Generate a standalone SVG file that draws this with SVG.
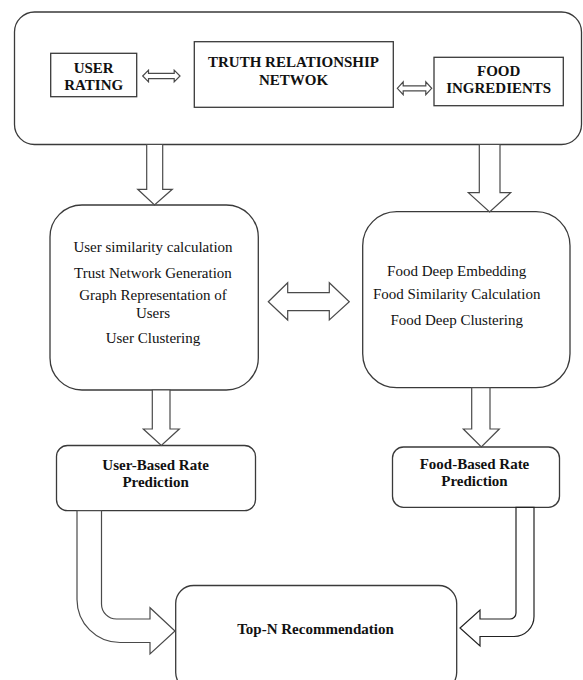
<svg xmlns="http://www.w3.org/2000/svg" width="583" height="680" viewBox="0 0 583 680">
<style>
.box{fill:#fff;stroke:#3a3a3a;stroke-width:1.3}
.arr{fill:#fff;stroke:#4a4a4a;stroke-width:1.2;stroke-linejoin:miter}
.b{font-family:"Liberation Serif","Times New Roman",serif;font-weight:bold;font-size:15px;fill:#111;text-anchor:middle}
.r{font-family:"Liberation Serif","Times New Roman",serif;font-size:15px;fill:#111;text-anchor:middle}
</style>
<rect width="583" height="680" fill="#fff"/>
<g id="top-container">
<rect class="box" x="14.5" y="12" width="567" height="132.5" rx="20"/>
</g>
<g id="user-rating">
<rect class="box" x="50.7" y="53.3" width="86" height="43.4"/>
<text class="b" x="93.7" y="72.7">USER</text>
<text class="b" x="93.7" y="90">RATING</text>
</g>
<g id="truth-network">
<rect class="box" x="194.3" y="41.7" width="199" height="65.6"/>
<text class="b" x="293.5" y="66.7">TRUTH RELATIONSHIP</text>
<text class="b" x="293.5" y="85">NETWOK</text>
</g>
<g id="food-ingredients">
<rect class="box" x="434" y="57.3" width="129.3" height="48.4"/>
<text class="b" x="498.7" y="76">FOOD</text>
<text class="b" x="498.7" y="93.3">INGREDIENTS</text>
</g>
<g id="user-processing">
<rect class="box" x="50" y="205" width="208.3" height="185" rx="32"/>
<text class="r" x="153" y="251.7">User similarity calculation</text>
<text class="r" x="153" y="277.7">Trust Network Generation</text>
<text class="r" x="153" y="300">Graph Representation of</text>
<text class="r" x="153" y="317.7">Users</text>
<text class="r" x="153" y="343.3">User Clustering</text>
</g>
<g id="food-processing">
<rect class="box" x="362.7" y="211.7" width="207.3" height="176" rx="34"/>
<text class="r" x="456.7" y="276">Food Deep Embedding</text>
<text class="r" x="456.7" y="299.3">Food Similarity Calculation</text>
<text class="r" x="456.7" y="325">Food Deep Clustering</text>
</g>
<g id="user-rate-prediction">
<rect class="box" x="56.5" y="445.5" width="199" height="65.2" rx="11"/>
<text class="b" x="155.6" y="470">User-Based Rate</text>
<text class="b" x="155.6" y="487.3">Prediction</text>
</g>
<g id="food-rate-prediction">
<rect class="box" x="392.5" y="447" width="167" height="60.3" rx="11"/>
<text class="b" x="474.5" y="469.3">Food-Based Rate</text>
<text class="b" x="474.5" y="486">Prediction</text>
</g>
<g id="top-n">
<rect class="box" x="175.7" y="585.5" width="281" height="105" rx="18"/>
<text class="b" x="315.5" y="634">Top-N Recommendation</text>
</g>
<g id="connectors">
<polygon class="arr" points="142.7,76 148.5,70.2 148.5,73.4 174.2,73.4 174.2,70.2 180,76 174.2,81.8 174.2,78.6 148.5,78.6 148.5,81.8"/>
<polygon class="arr" points="397.3,88.3 403.2,81.9 403.2,85.8 425.8,85.8 425.8,81.9 431.7,88.3 425.8,94.7 425.8,90.8 403.2,90.8 403.2,94.7"/>
<polygon class="arr" points="146.7,144.5 162.7,144.5 162.7,189.3 172.3,189.3 154.5,205 137.7,189.3 146.7,189.3"/>
<polygon class="arr" points="479.3,144.5 500,144.5 500,192.7 510.7,192.7 489.6,212 468.3,192.7 479.3,192.7"/>
<polygon class="arr" points="268.3,301.7 287.7,282.7 287.7,292.7 329.3,292.7 329.3,282.7 349.3,301.7 329.3,320 329.3,310.7 287.7,310.7 287.7,320"/>
<polygon class="arr" points="152.3,390 170,390 170,429 179.3,429 161.3,445.5 143.3,429 152.3,429"/>
<polygon class="arr" points="471.7,387.7 490,387.7 490,429 499.3,429 481.3,447 463.3,429 471.7,429"/>
<path class="arr" d="M101.5,510.7 L101.5,604 A15,15 0 0 0 116.5,619 L150,619 L150,607.7 L175,631 L150,654 L150,642.5 L120,642.5 A43,43 0 0 1 77,599.5 L77,510.7 Z"/>
<path class="arr" d="M516,507.3 L516,613 A6,6 0 0 1 510,619 L480,619 L480,610 L460,628 L480,646 L480,636.5 L514,636.5 A20,20 0 0 0 534,616.5 L534,507.3 Z" style="stroke:#222"/>
</g>
</svg>
